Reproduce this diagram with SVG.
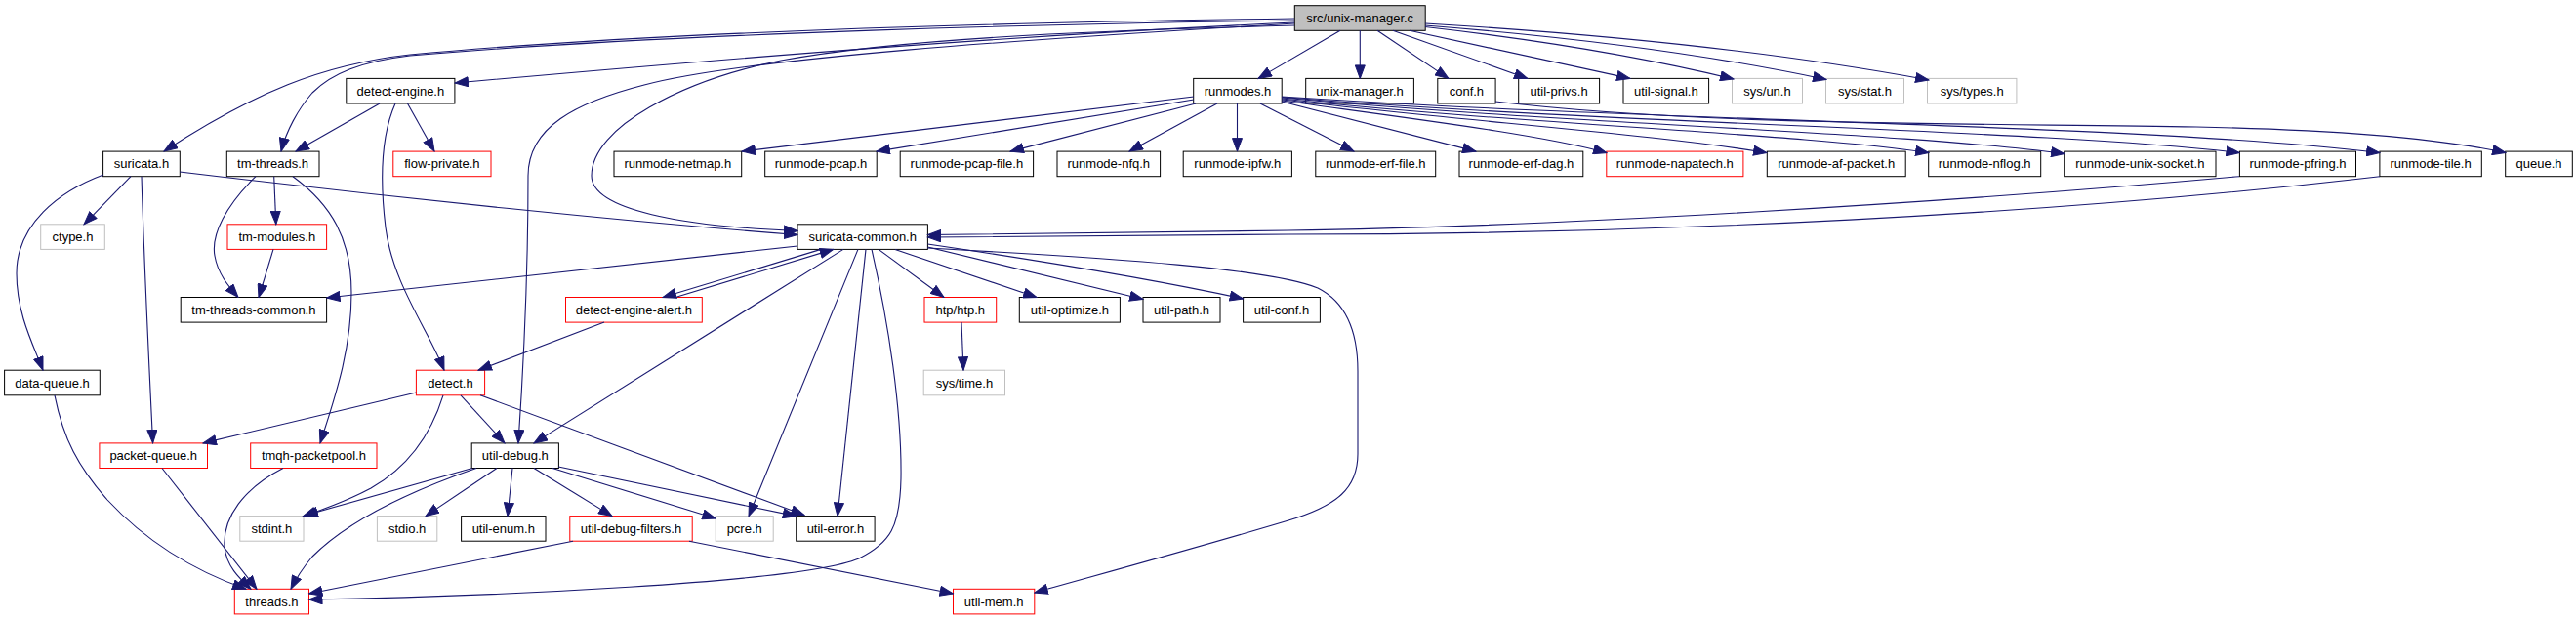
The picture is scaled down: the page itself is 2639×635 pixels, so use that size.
<svg xmlns="http://www.w3.org/2000/svg" width="2639" height="635" viewBox="0 0 2639 635">
<style>
.n rect{fill:#fff;stroke:#000;stroke-width:1}
.n.r rect{stroke:#ff0000}
.n.g rect{stroke:#bfbfbf}
.n.root rect{fill:#bfbfbf}
.n text{font-family:"Liberation Sans",Arial,sans-serif;font-size:13px;fill:#000;text-anchor:middle}
.e path{fill:none;stroke:#191970;stroke-width:1.1;marker-end:url(#a)}
</style>
<defs>
<marker id="a" markerUnits="userSpaceOnUse" markerWidth="15" markerHeight="11" refX="14" refY="5.5" orient="auto" viewBox="0 0 15 11"><path d="M0.5,0.5 L14,5.5 L0.5,10.5 z" fill="#191970" stroke="#191970" stroke-width="1"/></marker>
</defs>
<rect width="2639" height="635" fill="#fff"/>
<g id="nodes">
<g id="n_root" class="n root"><rect x="1326.3" y="5.7" width="133.9" height="25.6"/><text x="1393.2" y="23">src/unix-manager.c</text></g>
<g id="n_detect_engine" class="n"><rect x="354.8" y="80.4" width="111.1" height="25.6"/><text x="410.4" y="97.7">detect-engine.h</text></g>
<g id="n_runmodes" class="n"><rect x="1222.7" y="80.4" width="90.5" height="25.6"/><text x="1268" y="97.7">runmodes.h</text></g>
<g id="n_unix_manager" class="n"><rect x="1337.7" y="80.4" width="110.7" height="25.6"/><text x="1393" y="97.7">unix-manager.h</text></g>
<g id="n_conf" class="n"><rect x="1472.8" y="80.4" width="59.3" height="25.6"/><text x="1502.4" y="97.7">conf.h</text></g>
<g id="n_util_privs" class="n"><rect x="1555.7" y="80.4" width="82.9" height="25.6"/><text x="1597.1" y="97.7">util-privs.h</text></g>
<g id="n_util_signal" class="n"><rect x="1663" y="80.4" width="87.6" height="25.6"/><text x="1706.8" y="97.7">util-signal.h</text></g>
<g id="n_sys_un" class="n g"><rect x="1774.5" y="80.4" width="72" height="25.6"/><text x="1810.5" y="97.7">sys/un.h</text></g>
<g id="n_sys_stat" class="n g"><rect x="1870.5" y="80.4" width="80" height="25.6"/><text x="1910.5" y="97.7">sys/stat.h</text></g>
<g id="n_sys_types" class="n g"><rect x="1974.5" y="80.4" width="91.4" height="25.6"/><text x="2020.2" y="97.7">sys/types.h</text></g>
<g id="n_suricata" class="n"><rect x="105.6" y="155.1" width="78.7" height="25.6"/><text x="145" y="172.4">suricata.h</text></g>
<g id="n_tm_threads" class="n"><rect x="232.3" y="155.1" width="94.7" height="25.6"/><text x="279.6" y="172.4">tm-threads.h</text></g>
<g id="n_flow_private" class="n r"><rect x="402.8" y="155.1" width="100.2" height="25.6"/><text x="452.9" y="172.4">flow-private.h</text></g>
<g id="n_rm_netmap" class="n"><rect x="629" y="155.1" width="130.7" height="25.6"/><text x="694.3" y="172.4">runmode-netmap.h</text></g>
<g id="n_rm_pcap" class="n"><rect x="783.7" y="155.1" width="114.5" height="25.6"/><text x="841" y="172.4">runmode-pcap.h</text></g>
<g id="n_rm_pcap_file" class="n"><rect x="922.2" y="155.1" width="136.4" height="25.6"/><text x="990.4" y="172.4">runmode-pcap-file.h</text></g>
<g id="n_rm_nfq" class="n"><rect x="1083" y="155.1" width="105.6" height="25.6"/><text x="1135.8" y="172.4">runmode-nfq.h</text></g>
<g id="n_rm_ipfw" class="n"><rect x="1212.2" y="155.1" width="111.2" height="25.6"/><text x="1267.8" y="172.4">runmode-ipfw.h</text></g>
<g id="n_rm_erf_file" class="n"><rect x="1347.8" y="155.1" width="122.9" height="25.6"/><text x="1409.2" y="172.4">runmode-erf-file.h</text></g>
<g id="n_rm_erf_dag" class="n"><rect x="1495" y="155.1" width="126.8" height="25.6"/><text x="1558.4" y="172.4">runmode-erf-dag.h</text></g>
<g id="n_rm_napatech" class="n r"><rect x="1645.8" y="155.1" width="140.1" height="25.6"/><text x="1715.8" y="172.4">runmode-napatech.h</text></g>
<g id="n_rm_af_packet" class="n"><rect x="1810.3" y="155.1" width="141.9" height="25.6"/><text x="1881.2" y="172.4">runmode-af-packet.h</text></g>
<g id="n_rm_nflog" class="n"><rect x="1975.7" y="155.1" width="115" height="25.6"/><text x="2033.2" y="172.4">runmode-nflog.h</text></g>
<g id="n_rm_unix_socket" class="n"><rect x="2114.7" y="155.1" width="155.3" height="25.6"/><text x="2192.3" y="172.4">runmode-unix-socket.h</text></g>
<g id="n_rm_pfring" class="n"><rect x="2294.4" y="155.1" width="119.1" height="25.6"/><text x="2354" y="172.4">runmode-pfring.h</text></g>
<g id="n_rm_tile" class="n"><rect x="2437.9" y="155.1" width="104.4" height="25.6"/><text x="2490.1" y="172.4">runmode-tile.h</text></g>
<g id="n_queue" class="n"><rect x="2566.7" y="155.1" width="68.6" height="25.6"/><text x="2601" y="172.4">queue.h</text></g>
<g id="n_ctype" class="n g"><rect x="41.7" y="229.8" width="65.6" height="25.6"/><text x="74.5" y="247.1">ctype.h</text></g>
<g id="n_tm_modules" class="n r"><rect x="233" y="229.8" width="101.6" height="25.6"/><text x="283.8" y="247.1">tm-modules.h</text></g>
<g id="n_suricata_common" class="n"><rect x="817" y="229.8" width="133.4" height="25.6"/><text x="883.7" y="247.1">suricata-common.h</text></g>
<g id="n_tm_threads_common" class="n"><rect x="185.2" y="304.5" width="149.4" height="25.6"/><text x="259.9" y="321.8">tm-threads-common.h</text></g>
<g id="n_detect_engine_alert" class="n r"><rect x="579.5" y="304.5" width="139.8" height="25.6"/><text x="649.4" y="321.8">detect-engine-alert.h</text></g>
<g id="n_htp" class="n r"><rect x="947" y="304.5" width="73.7" height="25.6"/><text x="983.8" y="321.8">htp/htp.h</text></g>
<g id="n_util_optimize" class="n"><rect x="1044.3" y="304.5" width="103.1" height="25.6"/><text x="1095.9" y="321.8">util-optimize.h</text></g>
<g id="n_util_path" class="n"><rect x="1171" y="304.5" width="79" height="25.6"/><text x="1210.5" y="321.8">util-path.h</text></g>
<g id="n_util_conf" class="n"><rect x="1273.6" y="304.5" width="78.8" height="25.6"/><text x="1313" y="321.8">util-conf.h</text></g>
<g id="n_data_queue" class="n"><rect x="4.6" y="379.2" width="97.7" height="25.6"/><text x="53.5" y="396.5">data-queue.h</text></g>
<g id="n_detect" class="n r"><rect x="426.4" y="379.2" width="70.2" height="25.6"/><text x="461.5" y="396.5">detect.h</text></g>
<g id="n_sys_time" class="n g"><rect x="946.2" y="379.2" width="83.3" height="25.6"/><text x="987.9" y="396.5">sys/time.h</text></g>
<g id="n_packet_queue" class="n r"><rect x="101.9" y="453.9" width="110.6" height="25.6"/><text x="157.2" y="471.2">packet-queue.h</text></g>
<g id="n_tmqh_packetpool" class="n r"><rect x="256.7" y="453.9" width="129.3" height="25.6"/><text x="321.4" y="471.2">tmqh-packetpool.h</text></g>
<g id="n_util_debug" class="n"><rect x="483.2" y="453.9" width="89.2" height="25.6"/><text x="527.8" y="471.2">util-debug.h</text></g>
<g id="n_stdint" class="n g"><rect x="245.8" y="528.6" width="65.2" height="25.6"/><text x="278.4" y="545.9">stdint.h</text></g>
<g id="n_stdio" class="n g"><rect x="386.4" y="528.6" width="61.4" height="25.6"/><text x="417.1" y="545.9">stdio.h</text></g>
<g id="n_util_enum" class="n"><rect x="472.6" y="528.6" width="86.4" height="25.6"/><text x="515.8" y="545.9">util-enum.h</text></g>
<g id="n_util_debug_filters" class="n r"><rect x="583.8" y="528.6" width="125.4" height="25.6"/><text x="646.5" y="545.9">util-debug-filters.h</text></g>
<g id="n_pcre" class="n g"><rect x="733.2" y="528.6" width="59" height="25.6"/><text x="762.7" y="545.9">pcre.h</text></g>
<g id="n_util_error" class="n"><rect x="815.7" y="528.6" width="80.4" height="25.6"/><text x="855.9" y="545.9">util-error.h</text></g>
<g id="n_threads" class="n r"><rect x="240.3" y="603.3" width="76.2" height="25.6"/><text x="278.4" y="620.6">threads.h</text></g>
<g id="n_util_mem" class="n r"><rect x="976.5" y="603.3" width="83.3" height="25.6"/><text x="1018.2" y="620.6">util-mem.h</text></g>
</g>
<g id="connectors" class="e">
<path d="M1326,19 C1100,22 700,30 420,56 C330,66 260,95 168,155"/>
<path d="M1326,21 C1100,24 700,33 420,57 C370,63 340,75 320,95 C305,112 293,135 288,155"/>
<path d="M1326,23 C1050,36 800,55 466,85"/>
<path d="M1326,24 C1050,40 760,60 660,87 C590,105 541,130 541,180 C541,280 536,380 531,453.9"/>
<path d="M1326,26 C1100,32 920,40 800,62 C700,82 606,130 606,180 C606,215 700,232 817,236.5"/>
<path d="M1373,31.3 L1289,80.4"/>
<path d="M1393.3,31.3 L1393.3,80.4"/>
<path d="M1411,31.3 L1484,80.4"/>
<path d="M1427,31.3 L1565,80.4"/>
<path d="M1444,31.3 L1670,80.4"/>
<path d="M1460,27.5 Q1640,48 1776,81"/>
<path d="M1460,26 Q1700,45 1871,81.5"/>
<path d="M1460,24 Q1760,42 1976,82"/>
<path d="M389,106 L303,155.1"/>
<path d="M417.5,106 L445,155.1"/>
<path d="M405,106 C392,135 388,175 395,233 C402,290 440,340 455,379.2"/>
<path d="M134,180.7 L86,229.8"/>
<path d="M106,179 C60,196 17,230 17,280 C17,322 35,355 44,379.2"/>
<path d="M145,180.7 C148,280 153,380 156.6,453.9"/>
<path d="M184,176 C400,202 650,228 817,240.5"/>
<path d="M280.7,180.7 L282.8,229.8"/>
<path d="M262,180.7 C232,210 216,240 220,262 C223,280 234,293 244,304.5"/>
<path d="M300,180.7 C340,210 360,245 360,300 C360,360 342,410 328,453.9"/>
<path d="M280,255.4 L265,304.5"/>
<path d="M1223,99 L760,155.1"/>
<path d="M1223,102 L898,155.1"/>
<path d="M1225,106 L1035,155.1"/>
<path d="M1247,106 L1157,155.1"/>
<path d="M1267.5,106 L1267.5,155.1"/>
<path d="M1291,106 L1387,155.1"/>
<path d="M1313,104 L1512,155.1"/>
<path d="M1313,103 C1450,122 1580,138 1646,156.5"/>
<path d="M1313,102 C1500,124 1700,138 1810,156.5"/>
<path d="M1313,101 C1550,127 1850,137 1976,156.5"/>
<path d="M1313,100 C1600,127 1950,135 2115,157.5"/>
<path d="M1313,99.5 C1650,127 2100,133 2294.4,156.5"/>
<path d="M1313,99 C1700,125 2200,127 2438,156.5"/>
<path d="M1532,104 C1750,130 2050,126 2250,130 C2400,133 2500,142 2567,156.5"/>
<path d="M2294,180.7 C2000,207 1600,232 1320,236 C1150,238.5 1050,240 950.4,240.5"/>
<path d="M2438,180.7 C2100,220 1700,240 1320,240 C1150,241 1050,242 950.4,243"/>
<path d="M817,252 L334.6,305"/>
<path d="M841,255.4 L679,304.5"/>
<path d="M692,304.5 L853.6,255.4"/>
<path d="M864,255.4 L547,453.9"/>
<path d="M879,255.4 L767,528.6"/>
<path d="M887,255.4 L858,528.6"/>
<path d="M893,255.4 C910,330 924,420 923,490 C922,540 912,556 880,572 C820,597 500,611 316.5,614"/>
<path d="M900,255.4 L967,304.5"/>
<path d="M917,255.4 L1062,304.5"/>
<path d="M950.4,253 L1171,306.5"/>
<path d="M950.4,250 C1100,272 1200,290 1273.6,306"/>
<path d="M950.4,254 C1150,265 1300,275 1350,295 C1380,310 1391,340 1391,380 L1391,465 C1391,500 1370,518 1320,533 C1230,560 1120,590 1059.8,607"/>
<path d="M985,330.1 L987,379.2"/>
<path d="M619,330.1 L490,379.2"/>
<path d="M426.4,402 L208,453.9"/>
<path d="M454,404.8 C440,450 415,480 380,500 C352,515 330,522 310,529"/>
<path d="M472,404.8 L517,453.9"/>
<path d="M492,404.8 L824,527.5"/>
<path d="M484,479.5 L312,528"/>
<path d="M488,479.5 C400,510 350,540 320,570 C310,582 302,595 298,603.3"/>
<path d="M509,479.5 L436,528.6"/>
<path d="M525,479.5 L520,528.6"/>
<path d="M547,479.5 L627,528.6"/>
<path d="M566,479.5 L733.2,531"/>
<path d="M572,478 L815.7,528.6"/>
<path d="M587,554.2 L316.5,608"/>
<path d="M706,554.2 L976.5,608"/>
<path d="M166,479.5 L263,603.3"/>
<path d="M290,479.5 C250,500 228,530 230,560 C232,580 245,592 257,603.3"/>
<path d="M56,404.8 C65,450 80,478 110,512 C150,555 200,585 252,603.3"/>
</g>
</svg>
